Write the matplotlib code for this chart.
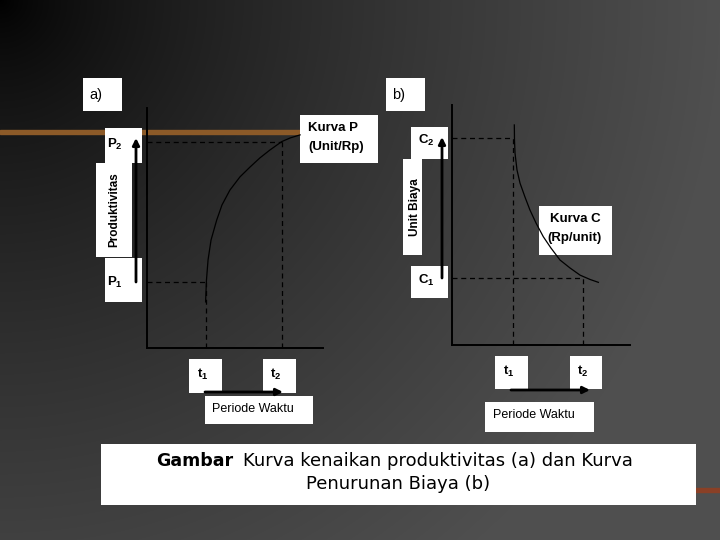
import numpy as np
import matplotlib.pyplot as plt
from matplotlib.patches import Rectangle

# panel a: kurva kenaikan produktivitas (t, P)
t_a = [3.34, 3.39, 3.48, 3.65, 3.97, 4.27, 4.72, 5.29, 5.86, 6.42, 6.99, 7.66, 8.13, 8.7]
p_a = [1.92, 2.83, 3.67, 4.5, 5.33, 5.96, 6.58, 7.13, 7.54, 7.92, 8.25, 8.6, 8.75, 8.88]
t1_a, t2_a = 3.38, 7.65
p1, p2 = 2.76, 8.6

# panel b: kurva penurunan biaya (t, C)
t_b = [3.49, 3.50, 3.53, 3.64, 3.81, 4.09, 4.37, 4.71, 5.12, 5.55, 6.06, 6.62, 7.19, 7.75, 8.22]
c_b = [9.17, 8.54, 7.99, 7.30, 6.75, 6.17, 5.63, 5.09, 4.52, 4.05, 3.55, 3.22, 2.92, 2.74, 2.62]
t1_b, t2_b = 3.4, 7.37
c1, c2 = 2.79, 8.63

W, H = 720, 540
narrow = ['Liberation Sans', 'DejaVu Sans']
plt.rcParams['mathtext.fontset'] = 'custom'
plt.rcParams['mathtext.rm'] = 'Liberation Sans:bold'
plt.rcParams['mathtext.bf'] = 'Liberation Sans:bold'

fig = plt.figure(figsize=(7.2, 5.4), dpi=100)

# background layer in pixel coordinates
bg = fig.add_axes([0, 0, 1, 1])
bg.set_xlim(0, W)
bg.set_ylim(H, 0)
bg.axis('off')
yy, xx = np.mgrid[0:H, 0:W]
r = np.clip(np.hypot(xx, yy) / 720.0, 0, 1)
shade = 0.31 * r ** 0.7
bg.imshow(np.dstack([shade, shade, shade]), extent=[0, W, H, 0], aspect='auto', zorder=0)

# orange stripes from the slide template
bg.add_patch(Rectangle((0, 130), 300, 4, color='#8c5a28', zorder=1))
bg.add_patch(Rectangle((695, 488), 25, 4, color='#8a4026', zorder=1))


def box(x0, y0, x1, y1):
    bg.add_patch(Rectangle((x0, y0), x1 - x0, y1 - y0, facecolor='white',
                           edgecolor='none', zorder=2))


def label(x, y, s, size=9.5, weight='bold', ha='left', rot=0):
    bg.text(x, y, s, fontsize=size, fontweight=weight, ha=ha, va='center',
            rotation=rot, family=narrow, color='black', zorder=3)


def arrow(x0, y0, x1, y1):
    bg.annotate('', xy=(x1, y1), xytext=(x0, y0),
                arrowprops=dict(arrowstyle='-|>', color='black', lw=2.0,
                                mutation_scale=10, shrinkA=0, shrinkB=0),
                zorder=4)


# panel a boxes
box(83, 78, 122, 111); label(89, 95, 'a)', size=10.5, weight='normal')
box(105, 128, 142, 163); label(107, 144, r'$\mathrm{P}_2$')
box(96, 163, 132, 257); label(114, 210, 'Produktivitas', size=8.5, ha='center', rot=90)
box(105, 258, 142, 302); label(107, 282, r'$\mathrm{P}_1$')
box(300, 115, 378, 163); label(308, 128, 'Kurva P'); label(308, 147, '(Unit/Rp)')
box(189, 359, 222, 393); label(197, 374, r'$\mathrm{t}_1$')
box(263, 359, 296, 393); label(270, 374, r'$\mathrm{t}_2$')
box(205, 396, 313, 424); label(212, 409, 'Periode Waktu', size=9, weight='normal')
arrow(136, 282, 136, 138)
arrow(205, 392, 283, 392)

# panel b boxes
box(386, 78, 425, 111); label(392, 95, 'b)', size=10.5, weight='normal')
box(411, 127, 448, 159); label(418, 140, r'$\mathrm{C}_2$')
box(403, 159, 422, 255); label(415, 207, 'Unit Biaya', size=8.5, ha='center', rot=90)
box(411, 266, 448, 298); label(418, 280, r'$\mathrm{C}_1$')
box(539, 206, 612, 255); label(575, 219, 'Kurva C', ha='center'); label(575, 238, '(Rp/unit)', ha='center')
box(495, 356, 528, 389); label(503, 371, r'$\mathrm{t}_1$')
box(570, 356, 602, 389); label(577, 371, r'$\mathrm{t}_2$')
box(485, 402, 594, 432); label(493, 415, 'Periode Waktu', size=9, weight='normal')
arrow(442, 278, 442, 137)
arrow(511, 390, 590, 390)

# caption
box(101, 444, 696, 505)
bg.text(233, 461, 'Gambar', fontsize=12.5, fontweight='bold', ha='right', va='center', zorder=3)
bg.text(243, 461, 'Kurva kenaikan produktivitas (a) dan Kurva', fontsize=13,
        ha='left', va='center', zorder=3)
bg.text(398, 484, 'Penurunan Biaya (b)', fontsize=13, ha='center', va='center', zorder=3)


def panel(rect, t, v, t1, t2, v1, v2, lo_at_t1):
    ax = fig.add_axes(rect)
    ax.patch.set_alpha(0)
    ax.set_xlim(0, 10)
    ax.set_ylim(0, 10)
    for s in ['top', 'right']:
        ax.spines[s].set_visible(False)
    for s in ['left', 'bottom']:
        ax.spines[s].set_color('black')
        ax.spines[s].set_linewidth(1.4)
    ax.set_xticks([])
    ax.set_yticks([])
    ax.plot(t, v, color='black', lw=0.9, zorder=5)
    dash = dict(color='black', lw=0.9, ls=(0, (4, 3)))
    if lo_at_t1:
        ax.plot([0, t1], [v1, v1], **dash)
        ax.plot([t1, t1], [0, v1], **dash)
        ax.plot([0, t2], [v2, v2], **dash)
        ax.plot([t2, t2], [0, v2], **dash)
    else:
        ax.plot([0, t1], [v2, v2], **dash)
        ax.plot([t1, t1], [0, v2], **dash)
        ax.plot([0, t2], [v1, v1], **dash)
        ax.plot([t2, t2], [0, v1], **dash)
    return ax


panel([146.7 / W, (H - 348) / H, (323 - 146.7) / W, (348 - 108) / H],
      t_a, p_a, t1_a, t2_a, p1, p2, True)
panel([452.3 / W, (H - 345.3) / H, (630 - 452.3) / W, (345.3 - 105) / H],
      t_b, c_b, t1_b, t2_b, c1, c2, False)

fig.savefig('out.png', dpi=100)
